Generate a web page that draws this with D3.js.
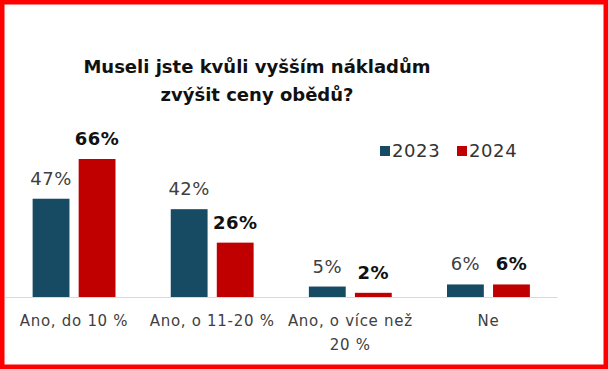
<!DOCTYPE html>
<html>
<head>
<meta charset="utf-8">
<script src="https://cdn.jsdelivr.net/npm/d3@7"></script>
<style>
  body { margin: 0; background: white; }
  svg { display: block; font-family: "DejaVu Sans", sans-serif; }
</style>
</head>
<body>
<svg id="chart" width="608" height="369"></svg>
<script>
  // data
  var categories = ['Ano, do 10 %', 'Ano, o 11-20 %', 'Ano, o více než 20 %', 'Ne']
  var years = ['2023', '2024']
  var values2023 = [47, 42, 5, 6]
  var values2024 = [66, 26, 2, 6]
  var colors = ['#174a63', '#c00000']

  var svg = d3.select('#chart')
  var width = +svg.attr('width')
  var height = +svg.attr('height')

  svg.append('rect')
    .attr('x', 0).attr('y', 0)
    .attr('width', width).attr('height', height)
    .attr('fill', 'white')

  var rows = categories.map(function(c, i){
    return {cat: c, vals: [values2023[i], values2024[i]]}
  })

  var baseY = 297
  var x0 = d3.scaleBand().domain(categories).range([5, 557.5]).paddingInner(0.4).paddingOuter(0.2)
  var x1 = d3.scaleBand().domain(years).range([0, x0.bandwidth()]).paddingInner(0.2)
  var yScale = d3.scaleLinear().domain([0, 66]).range([baseY, 159])

  // title
  var title = svg.append('text')
    .attr('text-anchor', 'middle')
    .style('font-weight', 'bold')
    .style('font-size', '18px')
    .style('fill', '#111')
  title.append('tspan').attr('x', 257).attr('y', 73).text('Museli jste kvůli vyšším nákladům')
  title.append('tspan').attr('x', 257).attr('y', 101).text('zvýšit ceny obědů?')

  // legend
  var legend = svg.append('g').attr('transform', 'translate(380,146)')
  var legX = [0, 77]
  years.forEach(function(y, i){
    legend.append('rect')
      .attr('x', legX[i]).attr('y', 0)
      .attr('width', 10).attr('height', 10)
      .attr('fill', colors[i])
    legend.append('text')
      .attr('x', legX[i] + 12).attr('y', 11)
      .text(y)
      .style('font-size', '18px')
      .style('letter-spacing', '0.6px')
      .style('fill', '#333')
  })

  // bars
  var groups = svg.selectAll('.grp').data(rows)
    .enter().append('g')
    .attr('class', 'grp')
    .attr('transform', function(d){ return 'translate(' + x0(d.cat) + ',0)' })

  groups.selectAll('rect')
    .data(function(d){ return d.vals.map(function(v, i){ return {year: years[i], v: v, i: i} }) })
    .enter().append('rect')
    .attr('x', function(d){ return x1(d.year) })
    .attr('y', function(d){ return yScale(d.v) })
    .attr('width', x1.bandwidth())
    .attr('height', function(d){ return baseY - yScale(d.v) })
    .attr('fill', function(d){ return colors[d.i] })

  groups.selectAll('.val')
    .data(function(d){ return d.vals.map(function(v, i){ return {year: years[i], v: v, i: i} }) })
    .enter().append('text')
    .attr('class', 'val')
    .attr('x', function(d){ return x1(d.year) + x1.bandwidth()/2 })
    .attr('y', function(d){ return yScale(d.v) - 14 })
    .attr('text-anchor', 'middle')
    .text(function(d){ return d.v + '%' })
    .style('font-size', '18px')
    .style('letter-spacing', '0.5px')
    .style('font-weight', function(d){ return d.i == 1 ? 'bold' : 'normal' })
    .style('fill', function(d){ return d.i == 1 ? '#111' : '#404040' })

  // baseline
  svg.append('line')
    .attr('x1', 5).attr('x2', 557.5)
    .attr('y1', baseY + 0.5).attr('y2', baseY + 0.5)
    .style('stroke', '#d9d9d9')
    .style('stroke-width', 1)

  // category labels, wrapped when too wide
  var catText = svg.selectAll('.cat').data(categories)
    .enter().append('text')
    .attr('class', 'cat')
    .attr('text-anchor', 'middle')
    .attr('y', 326)
    .style('font-size', '15px')
    .style('letter-spacing', '0.7px')
    .style('fill', '#404040')

  catText.each(function(c){
    var el = d3.select(this)
    var cx = x0(c) + x0.bandwidth()/2
    var words = c.split(' ')
    var line = []
    var tspan = el.append('tspan').attr('x', cx).attr('dy', 0)
    words.forEach(function(w){
      line.push(w)
      tspan.text(line.join(' '))
      if(tspan.node().getComputedTextLength() > 134 && line.length > 1){
        line.pop()
        tspan.text(line.join(' '))
        line = [w]
        tspan = el.append('tspan').attr('x', cx).attr('dy', 24).text(w)
      }
    })
  })

  // red frame
  svg.append('rect')
    .attr('x', 2.25).attr('y', 2.25)
    .attr('width', width - 4.5).attr('height', height - 4.5)
    .attr('fill', 'none')
    .style('stroke', '#ff0000')
    .style('stroke-width', 4.5)
</script>
</body>
</html>
